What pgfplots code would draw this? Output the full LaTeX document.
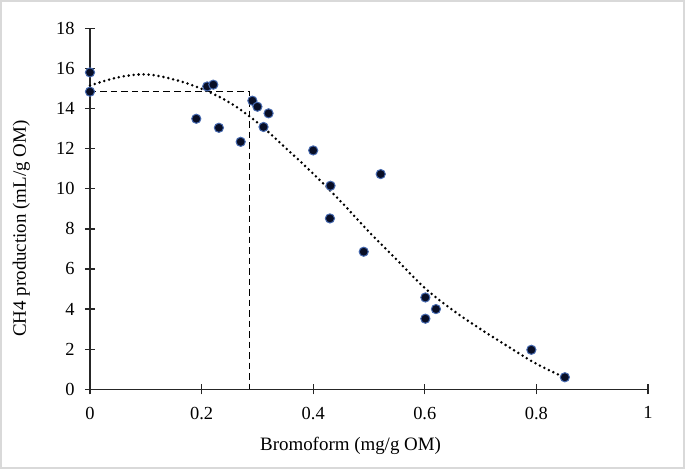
\documentclass[border=0pt]{standalone}
\usepackage{pgfplots}
\pgfplotsset{compat=1.18}
\usepackage{fontspec}
\setmainfont{Liberation Serif}
\definecolor{dotfill}{RGB}{8,14,38}
\definecolor{dotedge}{RGB}{70,105,175}
\definecolor{framegray}{RGB}{217,217,217}
\begin{document}
\begin{tikzpicture}
\useasboundingbox (-90bp,-79.7bp) rectangle (595bp,389.3bp);
\draw[framegray, line width=2.5bp] (-88.75bp,-78.45bp) rectangle (593.75bp,388.05bp);
\begin{axis}[
  scale only axis,
  width=558bp, height=361bp,
  xmin=0, xmax=1, ymin=0, ymax=18,
  axis lines=left,
  axis line style={-, line width=1.3bp, black!85},
  xtick={0,0.2,0.4,0.6,0.8,1},
  xticklabels={0,0.2,0.4,0.6,0.8,1},
  ytick={0,2,4,6,8,10,12,14,16,18},
  tick align=center,
  major tick length=10bp,
  tick style={line width=1.3bp, black!85},
  /pgf/number format/assume math mode=true,
  ticklabel style={font=\fontsize{18.5}{20}\selectfont},
  xticklabel style={yshift=-9bp},
  yticklabel style={xshift=-7bp},
  xlabel={Bromoform (mg/g OM)},
  ylabel={CH4 production (mL/g OM)},
  label style={font=\fontsize{19}{21}\selectfont},
  xlabel style={at={(axis description cs:0.467,-0.158)}, anchor=center},
  ylabel style={at={(axis description cs:-0.1228,0.445)}, anchor=center, rotate=0},
  clip=false,
]
% dashed guide lines
\addplot[black, line width=1.2bp, dash pattern=on 6.5bp off 4bp] coordinates {(0,14.85) (0.2855,14.85) (0.2855,0)};
% dotted trend curve
\addplot[black, line width=2.8bp, line cap=round, dash pattern=on 0bp off 5bp, smooth, tension=0.6] coordinates {
(0,15.15) (0.05,15.55) (0.1,15.70) (0.15,15.45) (0.2,14.98) (0.25,14.3)
(0.3,13.3) (0.35,12.05) (0.4,10.75) (0.45,9.35) (0.5,7.85) (0.55,6.45)
(0.6,5.05) (0.65,3.95) (0.7,3.0) (0.75,2.12) (0.8,1.27) (0.85,0.6)};
% data points
\addplot[only marks, mark=*, mark size=4.6bp, mark options={fill=dotfill, draw=dotedge, line width=1bp}] coordinates {
(0,15.8) (0,14.84) (0.1905,13.49) (0.210,15.1) (0.221,15.19) (0.231,13.04)
(0.270,12.34) (0.291,14.39) (0.300,14.09) (0.311,13.08) (0.320,13.76)
(0.400,11.91) (0.431,10.15) (0.430,8.52) (0.4905,6.86) (0.521,10.73)
(0.601,4.58) (0.620,4.0) (0.601,3.52) (0.791,1.97) (0.851,0.6)};
\end{axis}
\end{tikzpicture}
\end{document}
